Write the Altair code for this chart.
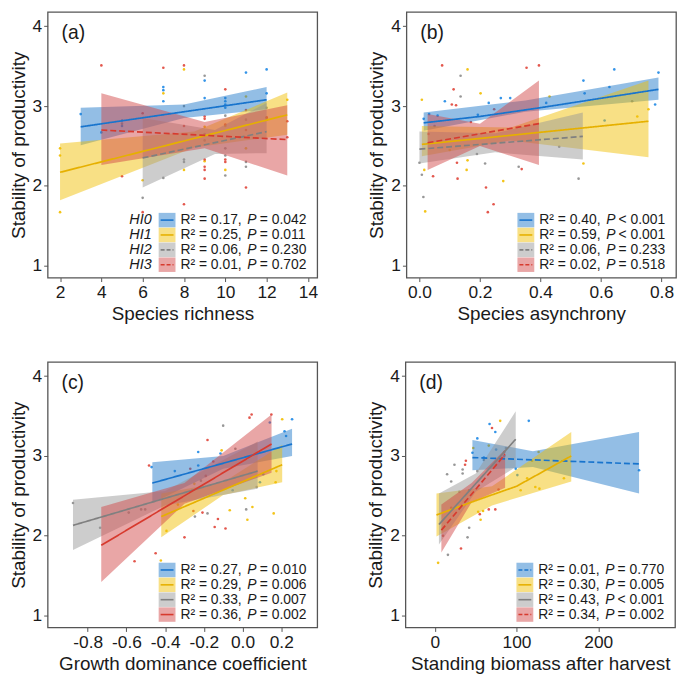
import altair as alt
import pandas as pd

GROUPS = ["HI0", "HI1", "HI2", "HI3"]
LINE_COLORS = ["#1874CD", "#E6B000", "#808080", "#D73A2E"]
BAND_COLORS = ["#1E78C8", "#F0BE00", "#969696", "#D24646"]
POINT_COLORS = ["#1E88E5", "#F2BE00", "#8C8C8C", "#E0453A"]

Y_TITLE = "Stability of productivity"
Y_TICKS = [1, 2, 3, 4]
Y_DOMAIN = [0.85, 4.18]

# ---------------- panel (a) ----------------
A_LETTER = "(a)"
A_X_TITLE = "Species richness"
A_X_TICKS = [2, 4, 6, 8, 10, 12, 14]
A_X_DOMAIN = [1.4, 14.45]
A0_X = [3, 4, 5, 5, 7, 7, 7, 9, 9, 10, 10, 10, 10, 11, 12, 12]
A0_Y = [2.90, 2.67, 2.82, 2.75, 3.24, 3.20, 3.06, 3.32, 3.10, 3.10, 3.06, 3.02, 2.98, 3.42, 3.46, 3.16]
A1_X = [2, 2, 2, 6, 7, 8, 8, 9, 9, 10, 10, 11, 11, 12, 13]
A1_Y = [2.47, 2.38, 1.67, 2.07, 3.16, 3.46, 2.20, 2.74, 2.31, 2.20, 2.75, 3.12, 2.47, 2.85, 3.08]
A2_X = [5, 6, 7, 8, 8, 8, 9, 9, 9, 10, 10, 10, 10, 11, 11, 11, 12, 12]
A2_Y = [2.78, 1.85, 2.10, 3.00, 2.33, 2.30, 3.38, 2.65, 2.57, 2.88, 2.47, 2.38, 2.13, 2.83, 2.30, 2.24, 2.98, 2.83]
A3_X = [4, 5, 6, 6, 7, 8, 8, 8, 9, 9, 9, 9, 9, 9, 10, 10, 10, 10, 11, 11, 11, 12, 13, 13]
A3_Y = [3.51, 2.12, 2.91, 1.67, 3.48, 3.51, 2.75, 1.77, 2.87, 2.84, 2.33, 2.24, 2.20, 2.09, 3.21, 2.77, 2.33, 2.30, 2.95, 2.70, 1.98, 2.86, 2.81, 2.61]
A_LINE_G = ["HI0", "HI0", "HI1", "HI1", "HI2", "HI2", "HI3", "HI3"]
A_LINE_X = [3, 12, 2, 13, 6, 12, 4, 13]
A_LINE_Y = [2.74, 3.08, 2.17, 2.89, 2.35, 2.68, 2.70, 2.58]
A_BAND_G = ["HI0"] * 3 + ["HI1"] * 3 + ["HI2"] * 3 + ["HI3"] * 3
A_BAND_X = [3, 8, 12, 2, 8.5, 13, 6, 9.5, 12, 4, 9, 13]
A_BAND_LO = [2.51, 2.85, 2.96, 1.82, 2.48, 2.64, 1.98, 2.40, 2.41, 2.26, 2.47, 2.13]
A_BAND_HI = [2.98, 3.02, 3.24, 2.53, 2.68, 3.17, 2.85, 2.70, 3.04, 3.16, 2.80, 3.01]
A_R2 = ["0.17", "0.25", "0.06", "0.01"]
A_P = ["= 0.042", "= 0.011", "= 0.230", "= 0.702"]
A_DASHED = ["HI2", "HI3"]

# ---------------- panel (b) ----------------
B_LETTER = "(b)"
B_X_TITLE = "Species asynchrony"
B_X_TICKS = [0.0, 0.2, 0.4, 0.6, 0.8]
B_X_DOMAIN = [-0.043, 0.848]
B0_X = [0.014, 0.032, 0.06, 0.084, 0.193, 0.229, 0.269, 0.30, 0.419, 0.546, 0.542, 0.612, 0.628, 0.644, 0.779, 0.79]
B0_Y = [2.84, 2.90, 2.88, 3.06, 2.89, 3.04, 3.10, 3.10, 3.04, 3.16, 3.32, 2.82, 3.24, 3.46, 3.02, 3.42]
B1_X = [0.008, 0.016, 0.019, 0.159, 0.156, 0.159, 0.202, 0.277, 0.43, 0.542, 0.72, 0.757, 0.10, 0.35]
B1_Y = [3.08, 2.20, 1.68, 3.46, 2.20, 2.32, 3.16, 2.06, 3.12, 2.28, 2.87, 2.96, 2.45, 2.75]
B2_X = [0.0, 0.008, 0.013, 0.136, 0.136, 0.217, 0.328, 0.462, 0.526, 0.703, 0.05, 0.19]
B2_Y = [2.29, 2.14, 1.86, 3.38, 3.12, 2.28, 2.24, 2.49, 2.09, 3.06, 2.75, 2.40]
B3_X = [0.075, 0.045, 0.113, 0.107, 0.121, 0.247, 0.126, 0.124, 0.22, 0.226, 0.245, 0.338, 0.354, 0.395, 0.03, 0.17]
B3_Y = [3.51, 2.12, 3.21, 3.02, 3.01, 2.96, 2.09, 2.29, 1.98, 1.67, 1.77, 2.21, 3.48, 3.51, 2.65, 2.80]
B_LINE_G = ["HI0"] * 4 + ["HI1", "HI1", "HI2", "HI2", "HI3", "HI3"]
B_LINE_X = [0.014, 0.2, 0.4, 0.79, 0.008, 0.757, 0.0, 0.54, 0.027, 0.395]
B_LINE_Y = [2.79, 2.87, 2.98, 3.21, 2.52, 2.81, 2.46, 2.62, 2.54, 2.78]
B_BAND_G = ["HI0"] * 3 + ["HI1"] * 3 + ["HI2"] * 3 + ["HI3"] * 3
B_BAND_X = [0.014, 0.35, 0.79, 0.008, 0.3, 0.757, 0.0, 0.25, 0.54, 0.027, 0.2, 0.395]
B_BAND_LO = [2.69, 2.93, 3.08, 2.37, 2.57, 2.36, 2.28, 2.42, 2.33, 2.20, 2.50, 2.26]
B_BAND_HI = [2.92, 3.07, 3.36, 2.75, 2.73, 3.32, 2.68, 2.66, 2.92, 2.90, 2.78, 3.32]
B_R2 = ["0.40", "0.59", "0.06", "0.02"]
B_P = ["< 0.001", "< 0.001", "= 0.233", "= 0.518"]
B_DASHED = ["HI2", "HI3"]

# ---------------- panel (c) ----------------
C_LETTER = "(c)"
C_X_TITLE = "Growth dominance coefficient"
C_X_TICKS = [-0.8, -0.6, -0.4, -0.2, 0.0, 0.2]
C_X_DOMAIN = [-1.007, 0.386]
C0_X = [-0.47, -0.35, -0.229, -0.229, -0.114, -0.051, 0.09, 0.107, 0.141, 0.217, 0.225, 0.256]
C0_Y = [2.86, 2.81, 3.05, 2.88, 3.03, 2.57, 2.67, 2.77, 3.42, 3.31, 3.25, 3.46]
C1_X = [-0.422, -0.393, -0.334, -0.249, -0.108, -0.066, 0.014, 0.025, 0.051, 0.161, 0.171, 0.175, 0.205]
C1_Y = [1.69, 2.06, 2.39, 2.65, 3.07, 2.32, 2.47, 2.20, 2.36, 2.28, 2.67, 2.81, 3.46]
C2_X = [-0.876, -0.736, -0.588, -0.524, -0.503, -0.246, -0.215, -0.181, -0.10, -0.037, 0.019, 0.073]
C2_Y = [2.41, 2.10, 2.29, 2.33, 2.33, 2.24, 2.69, 2.28, 3.38, 3.09, 2.33, 2.61]
C3_X = [-0.558, -0.483, -0.449, -0.30, -0.27, -0.254, -0.207, -0.19, -0.181, -0.151, -0.127, -0.144, -0.088, 0.036, 0.047, 0.149]
C3_Y = [1.68, 2.88, 1.78, 1.98, 2.84, 2.31, 2.29, 2.75, 3.20, 2.93, 2.21, 2.11, 2.09, 3.48, 3.52, 3.52]
C_LINE_G = ["HI0", "HI0", "HI1", "HI1", "HI2", "HI2", "HI3", "HI3"]
C_LINE_X = [-0.466, 0.256, -0.42, 0.205, -0.876, 0.078, -0.73, 0.15]
C_LINE_Y = [2.66, 3.15, 2.24, 2.89, 2.13, 2.81, 1.88, 3.15]
C_BAND_G = ["HI0"] * 3 + ["HI1"] * 3 + ["HI2"] * 3 + ["HI3"] * 3
C_BAND_X = [-0.466, -0.1, 0.256, -0.42, -0.1, 0.205, -0.876, -0.4, 0.078, -0.73, -0.3, 0.15]
C_BAND_LO = [2.41, 2.84, 3.00, 1.98, 2.51, 2.67, 1.82, 2.38, 2.59, 1.42, 2.40, 2.79]
C_BAND_HI = [2.92, 3.00, 3.34, 2.53, 2.67, 3.14, 2.45, 2.56, 3.18, 2.36, 2.66, 3.52]
C_R2 = ["0.27", "0.29", "0.33", "0.36"]
C_P = ["= 0.010", "= 0.006", "= 0.007", "= 0.002"]
C_DASHED = []

# ---------------- panel (d) ----------------
D_LETTER = "(d)"
D_X_TITLE = "Standing biomass after harvest"
D_X_TICKS = [0, 100, 200]
D_X_DOMAIN = [-36, 294]
D0_X = [46, 52, 67, 74, 75, 99, 101, 115, 250, 60, 85]
D0_Y = [3.04, 3.22, 3.40, 3.30, 3.08, 2.84, 2.76, 3.44, 2.82, 2.98, 3.00]
D1_X = [4, 47, 53, 56, 59, 66, 80, 105, 113, 119, 123, 128, 158, 127]
D1_Y = [1.66, 3.10, 2.30, 2.20, 2.31, 3.13, 3.44, 2.57, 2.72, 2.94, 2.61, 2.59, 2.72, 3.05]
D2_X = [16, 40, 42, 15, 20, 24, 34, 34, 52, 87, 30, 60]
D2_Y = [1.76, 1.98, 2.10, 2.77, 2.68, 2.89, 2.83, 2.78, 2.81, 3.10, 2.55, 2.95]
D3_X = [32, 37, 38, 55, 66, 74, 70, 78, 42, 20, 85, 10]
D3_Y = [1.84, 2.89, 2.94, 2.27, 2.33, 2.33, 3.35, 2.58, 2.57, 2.35, 3.05, 2.00]
D_LINE_G = ["HI0", "HI0"] + ["HI1"] * 4 + ["HI2", "HI2", "HI3", "HI3"]
D_LINE_X = [46, 250, 2, 50, 100, 167, 5, 99, 8, 86]
D_LINE_Y = [2.98, 2.90, 2.26, 2.44, 2.62, 3.00, 2.14, 3.21, 2.07, 3.02]
D_BAND_G = ["HI0"] * 3 + ["HI1"] * 3 + ["HI2"] * 3 + ["HI3"] * 3
D_BAND_X = [46, 120, 250, 2, 70, 167, 5, 50, 99, 8, 45, 86]
D_BAND_LO = [2.82, 2.86, 2.53, 1.99, 2.38, 2.68, 1.89, 2.55, 2.86, 1.79, 2.42, 2.60]
D_BAND_HI = [3.20, 3.06, 3.30, 2.53, 2.62, 3.30, 2.53, 2.78, 3.56, 2.39, 2.66, 3.08]
D_R2 = ["0.01", "0.30", "0.43", "0.34"]
D_P = ["= 0.770", "= 0.005", "< 0.001", "= 0.002"]
D_DASHED = ["HI0", "HI3"]

W, H = 272, 268
FONT = "Liberation Sans"
TXT = "#1a1a1a"
ONE = pd.DataFrame({"k": [0]})


def points_df(xs, ys):
    rows = []
    for g, x, y in zip(GROUPS, xs, ys):
        for xi, yi in zip(x, y):
            rows.append({"g": g, "x": xi, "y": yi})
    return pd.DataFrame(rows)


def panel(letter, xtitle, xdomain, xticks, xfmt, pxs, pys, lg, lx, ly,
          bg, bx, blo, bhi, r2, pv, dashed, hi_labels=False):
    xenc = alt.X("x:Q", scale=alt.Scale(domain=xdomain, nice=False, zero=False),
                 axis=alt.Axis(values=xticks, title=xtitle, format=xfmt,
                               labelExpr="replace(datum.label, '\u2212', '-')"))
    yenc = alt.Y("y:Q", scale=alt.Scale(domain=Y_DOMAIN, nice=False, zero=False),
                 axis=alt.Axis(values=Y_TICKS, title=Y_TITLE))

    pts = alt.Chart(points_df(pxs, pys)).mark_circle(size=7, opacity=0.9).encode(
        x=xenc, y=yenc,
        color=alt.Color("g:N", scale=alt.Scale(domain=GROUPS, range=POINT_COLORS), legend=None))

    bdf = pd.DataFrame({"g": bg, "x": bx, "lo": blo, "hi": bhi})
    bands = alt.Chart(bdf).mark_area(opacity=0.48).encode(
        x=xenc,
        y=alt.Y("lo:Q", scale=alt.Scale(domain=Y_DOMAIN, nice=False, zero=False),
                axis=alt.Axis(values=Y_TICKS, title=Y_TITLE)),
        y2="hi:Q",
        fill=alt.Fill("g:N", scale=alt.Scale(domain=GROUPS, range=BAND_COLORS), legend=None),
        detail="g:N")

    ldf = pd.DataFrame({"g": lg, "x": lx, "y": ly})
    ldf["style"] = ["dashed" if g in dashed else "solid" for g in lg]
    lines = alt.Chart(ldf).mark_line(strokeWidth=1.7).encode(
        x=xenc, y=yenc,
        stroke=alt.Stroke("g:N", scale=alt.Scale(domain=GROUPS, range=LINE_COLORS), legend=None),
        strokeDash=alt.StrokeDash("style:N", scale=alt.Scale(domain=["solid", "dashed"],
                                                             range=[[1, 0], [6, 3]]), legend=None),
        detail="g:N")

    layers = [pts, bands, lines]

    layers.append(alt.Chart(ONE).mark_text(text=letter, align="left", baseline="middle",
                                           fontSize=19.5, font=FONT, color=TXT).encode(
        x=alt.value(14), y=alt.value(21)))

    kx0, kx1, tx = 112, 129, 134
    for i, g in enumerate(GROUPS):
        yc = H - 58 + 15 * i
        layers.append(alt.Chart(ONE).mark_rect(fill=BAND_COLORS[i], opacity=0.48).encode(
            x=alt.value(kx0), x2=alt.value(kx1), y=alt.value(yc - 7.3), y2=alt.value(yc + 7.3)))
        rule_kw = dict(color=LINE_COLORS[i], strokeWidth=1.6)
        if g in dashed:
            rule_kw["strokeDash"] = [4, 2]
        layers.append(alt.Chart(ONE).mark_rule(**rule_kw).encode(
            x=alt.value(kx0 + 2), x2=alt.value(kx1 - 2), y=alt.value(yc)))
        layers.append(alt.Chart(ONE).mark_text(text=f"R\u00b2 = {r2[i]},", align="left",
                                               baseline="middle", fontSize=14, font=FONT,
                                               color=TXT).encode(x=alt.value(tx), y=alt.value(yc)))
        layers.append(alt.Chart(ONE).mark_text(text="P", align="left", baseline="middle",
                                               fontSize=14, font=FONT, fontStyle="italic",
                                               color=TXT).encode(x=alt.value(tx + 67.5), y=alt.value(yc)))
        layers.append(alt.Chart(ONE).mark_text(text=pv[i], align="left", baseline="middle",
                                               fontSize=14, font=FONT, color=TXT).encode(
            x=alt.value(tx + 80), y=alt.value(yc)))
        if hi_labels:
            layers.append(alt.Chart(ONE).mark_text(text=g, align="right", baseline="middle",
                                                   fontSize=14.5, font=FONT, fontStyle="italic",
                                                   color=TXT).encode(x=alt.value(105), y=alt.value(yc)))

    return alt.layer(*layers).properties(width=W, height=H)


pa = panel(A_LETTER, A_X_TITLE, A_X_DOMAIN, A_X_TICKS, "d",
           [A0_X, A1_X, A2_X, A3_X], [A0_Y, A1_Y, A2_Y, A3_Y],
           A_LINE_G, A_LINE_X, A_LINE_Y, A_BAND_G, A_BAND_X, A_BAND_LO, A_BAND_HI,
           A_R2, A_P, A_DASHED, hi_labels=True)
pb = panel(B_LETTER, B_X_TITLE, B_X_DOMAIN, B_X_TICKS, ".1f",
           [B0_X, B1_X, B2_X, B3_X], [B0_Y, B1_Y, B2_Y, B3_Y],
           B_LINE_G, B_LINE_X, B_LINE_Y, B_BAND_G, B_BAND_X, B_BAND_LO, B_BAND_HI,
           B_R2, B_P, B_DASHED)
pc = panel(C_LETTER, C_X_TITLE, C_X_DOMAIN, C_X_TICKS, ".1f",
           [C0_X, C1_X, C2_X, C3_X], [C0_Y, C1_Y, C2_Y, C3_Y],
           C_LINE_G, C_LINE_X, C_LINE_Y, C_BAND_G, C_BAND_X, C_BAND_LO, C_BAND_HI,
           C_R2, C_P, C_DASHED)
pd_ = panel(D_LETTER, D_X_TITLE, D_X_DOMAIN, D_X_TICKS, "d",
            [D0_X, D1_X, D2_X, D3_X], [D0_Y, D1_Y, D2_Y, D3_Y],
            D_LINE_G, D_LINE_X, D_LINE_Y, D_BAND_G, D_BAND_X, D_BAND_LO, D_BAND_HI,
            D_R2, D_P, D_DASHED)

chart = alt.vconcat(
    alt.hconcat(pa, pb, spacing=48),
    alt.hconcat(pc, pd_, spacing=48),
    spacing=36,
).properties(
    padding={"left": 0, "top": 0, "right": 0, "bottom": 0}
).configure_view(
    stroke="#555555", strokeWidth=1.3
).configure_axis(
    grid=False, domain=False, ticks=True, tickColor="#555555", tickSize=4,
    labelFont=FONT, titleFont=FONT, labelFontSize=17.5, titleFontSize=19,
    labelColor=TXT, titleColor=TXT, titleFontWeight="normal",
    labelPadding=2, titlePadding=4, labelOverlap=False, labelFlush=False
)

chart.save("out.html", embed_options={"renderer": "svg", "actions": False})
